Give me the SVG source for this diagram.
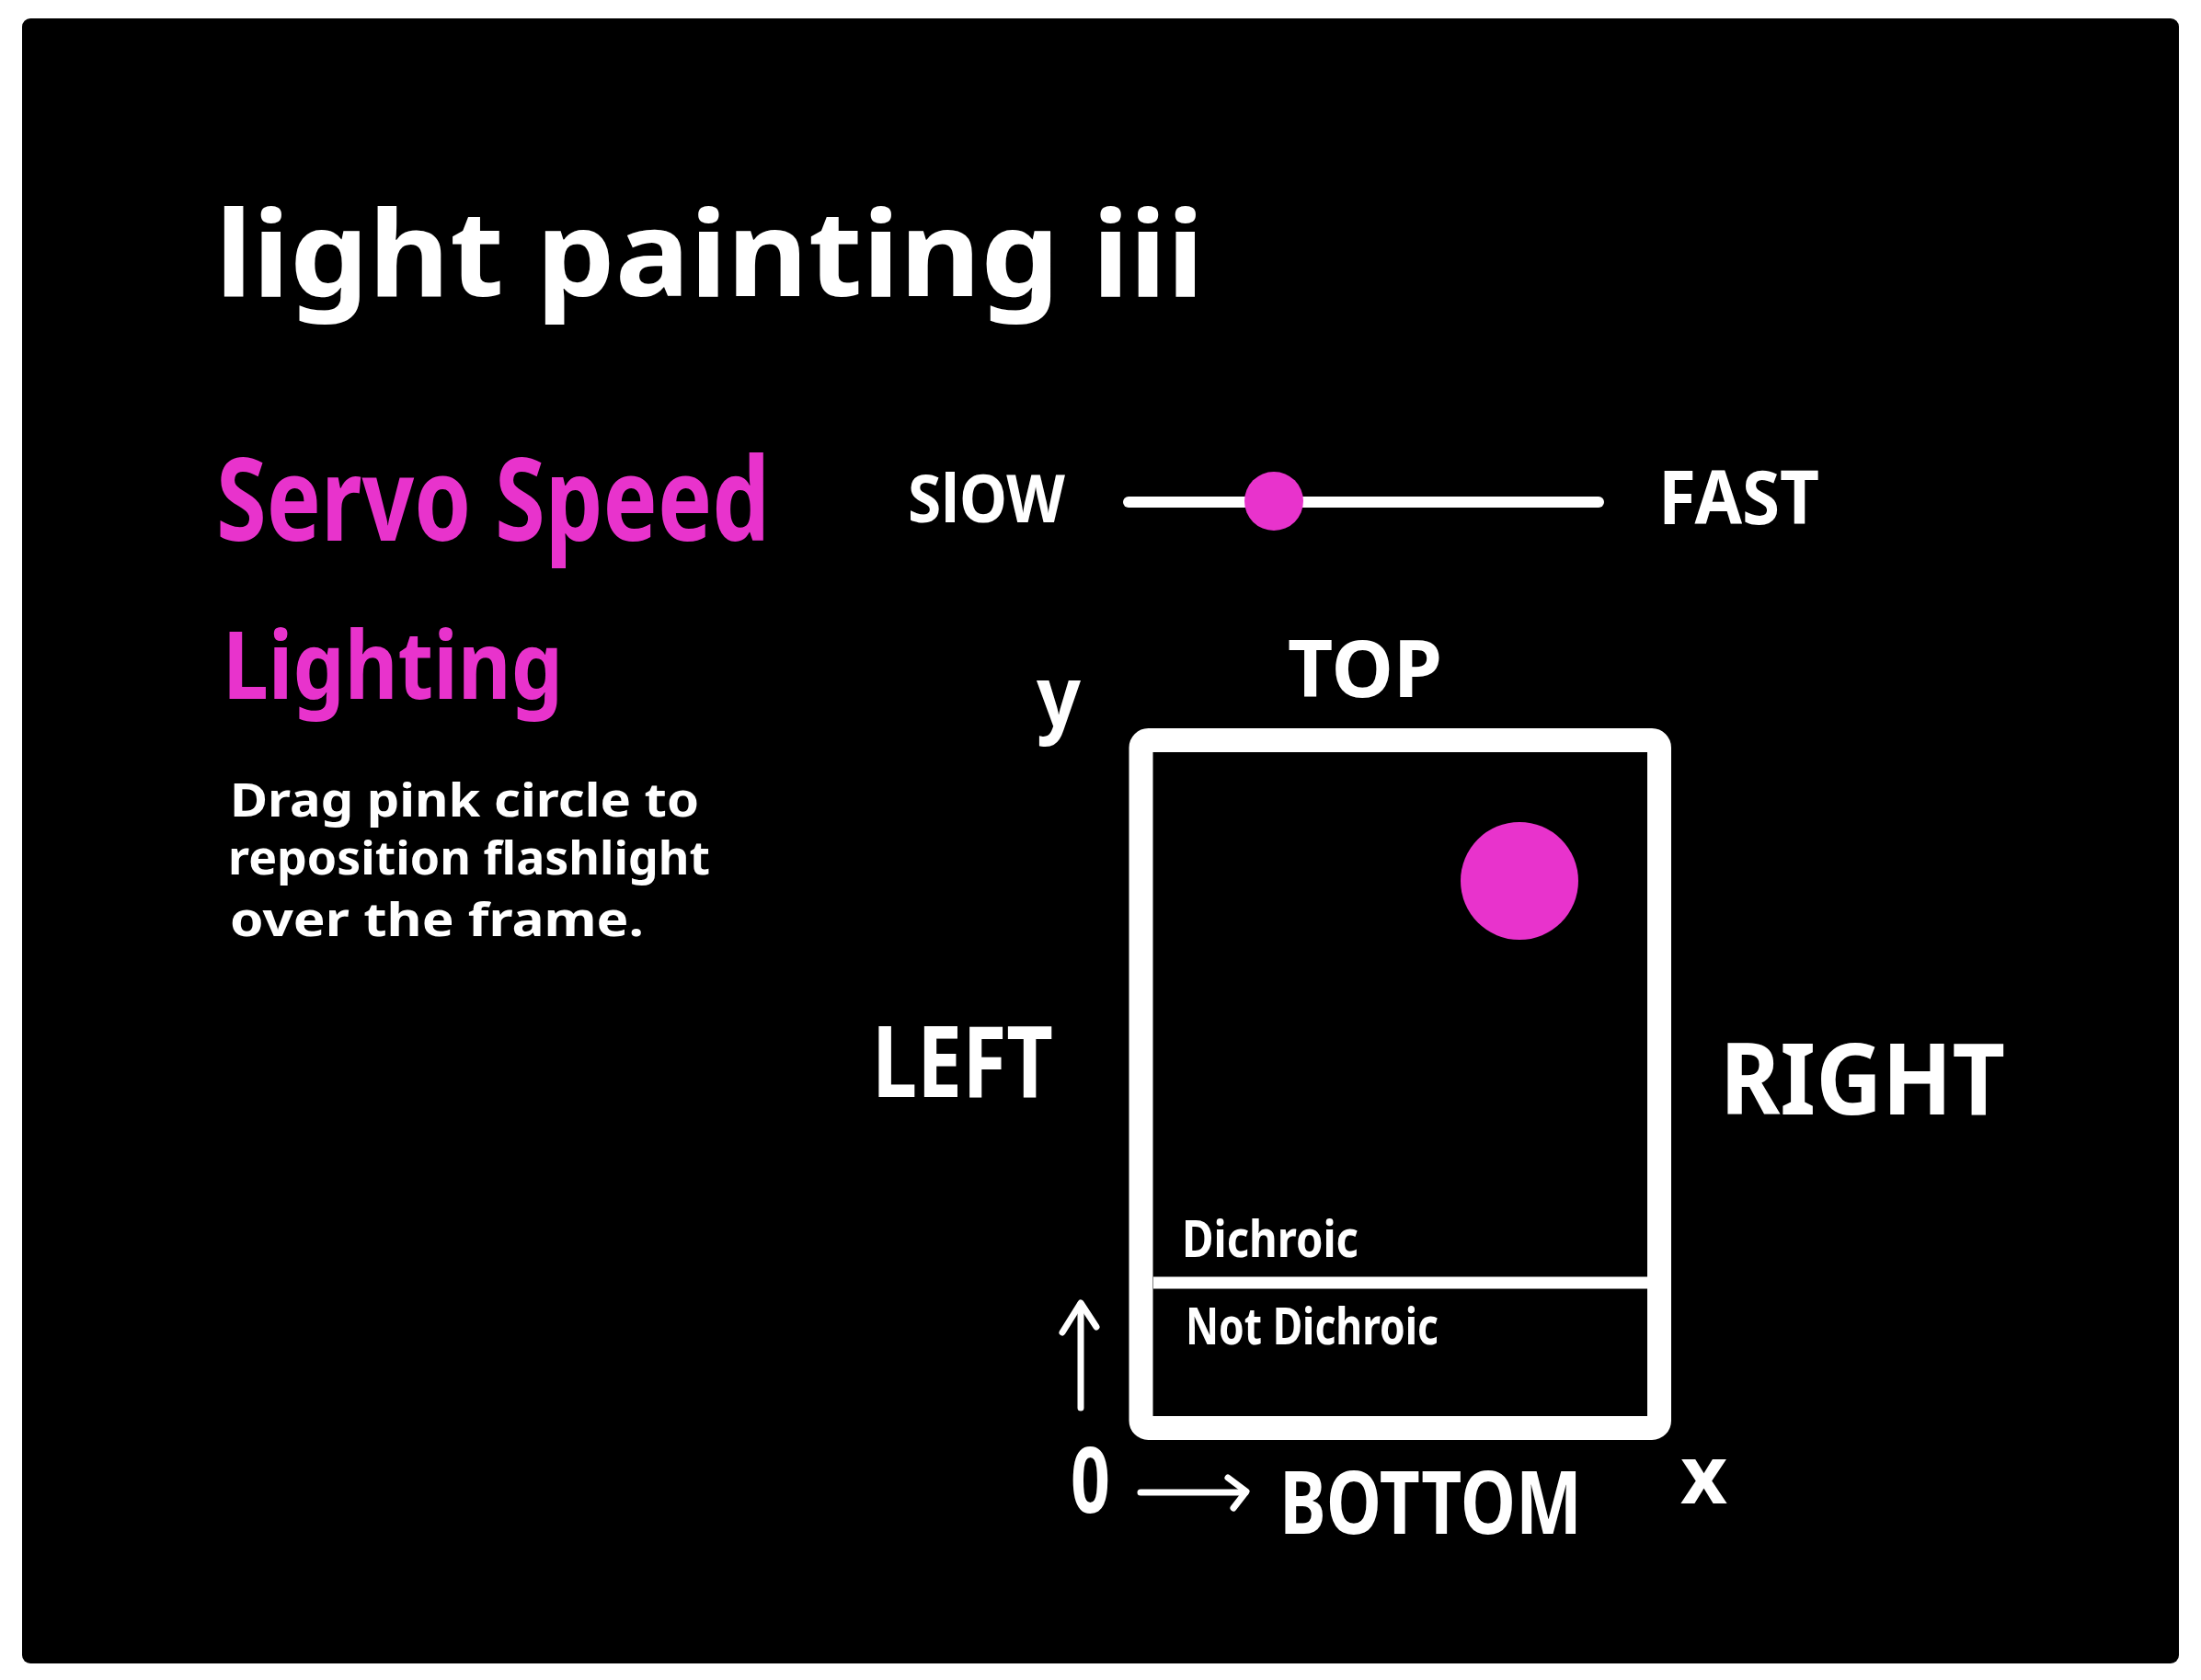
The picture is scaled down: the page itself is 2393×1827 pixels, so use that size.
<svg xmlns="http://www.w3.org/2000/svg" width="2393" height="1827" viewBox="0 0 2393 1827">
<style>
.t{font-family:"Noto Sans","Open Sans","DejaVu Sans",sans-serif;font-weight:700;fill:#ffffff}
.p{fill:#E833CC}
.ln{stroke:#ffffff;fill:none;stroke-linecap:round;stroke-linejoin:round}
</style>
<rect x="0" y="0" width="2393" height="1827" fill="#ffffff"/>
<rect id="background" x="24" y="20" width="2345" height="1789" rx="9" fill="#000000"/>
<g id="title"><text class="t" x="234" y="322" font-size="130" textLength="1075" lengthAdjust="spacingAndGlyphs">light painting iii</text></g>
<g id="servo-speed"><text class="t p" x="235" y="588" font-size="125" textLength="602" lengthAdjust="spacingAndGlyphs">Servo Speed</text></g>
<g id="slider">
<text class="t" x="987" y="568" font-size="72" textLength="171" lengthAdjust="spacingAndGlyphs">SlOW</text>
<line class="ln" x1="1227" y1="546" x2="1738" y2="546" stroke-width="12"/>
<circle class="p" cx="1385" cy="545" r="32"/>
<text class="t" x="1803" y="570" font-size="80" textLength="175" lengthAdjust="spacingAndGlyphs">FAST</text>
</g>
<g id="lighting"><text class="t p" x="242" y="760" font-size="102" textLength="370" lengthAdjust="spacingAndGlyphs">Lighting</text></g>
<g id="description">
<text class="t" x="250" y="888" font-size="50" textLength="510" lengthAdjust="spacingAndGlyphs">Drag  pink circle to</text>
<text class="t" x="248" y="951" font-size="50" textLength="524" lengthAdjust="spacingAndGlyphs">reposition flashlight</text>
<text class="t" x="250" y="1018" font-size="50" textLength="450" lengthAdjust="spacingAndGlyphs">over the frame.</text>
</g>
<g id="frame">
<rect x="1240.5" y="805" width="563.5" height="748" rx="8" fill="none" stroke="#ffffff" stroke-width="26"/>
<line x1="1254" y1="1395" x2="1791" y2="1395" stroke="#ffffff" stroke-width="13"/>
<text class="t" x="1285" y="1367" font-size="56" textLength="192" lengthAdjust="spacingAndGlyphs">Dichroic</text>
<text class="t" x="1289" y="1462" font-size="55" textLength="275" lengthAdjust="spacingAndGlyphs">Not Dichroic</text>
</g>
<g id="flashlight"><circle class="p" cx="1652" cy="958" r="64"/></g>
<g id="labels">
<text class="t" x="1400" y="758" font-size="86" textLength="168" lengthAdjust="spacingAndGlyphs">TOP</text>
<text class="t" x="1127" y="790" font-size="92" textLength="48" lengthAdjust="spacingAndGlyphs">y</text>
<text class="t" x="948" y="1193" font-size="108" textLength="197" lengthAdjust="spacingAndGlyphs">LEFT</text>
<text class="t" x="1870" y="1212" font-size="107" textLength="310" lengthAdjust="spacingAndGlyphs">RIGHT</text>
<text class="t" x="1164" y="1645" font-size="98" textLength="43" lengthAdjust="spacingAndGlyphs">0</text>
<text class="t" x="1391" y="1668" font-size="95" textLength="329" lengthAdjust="spacingAndGlyphs">BOTTOM</text>
<text class="t" x="1827" y="1635" font-size="88" textLength="51" lengthAdjust="spacingAndGlyphs">x</text>
</g>
<g id="connectors">
<polyline class="ln" stroke-width="7" points="1175,1531 1175,1418"/>
<polyline class="ln" stroke-width="7" points="1155,1449 1175,1417 1192,1443"/>
<polyline class="ln" stroke-width="7" points="1240,1623 1354,1623"/>
<polyline class="ln" stroke-width="7" points="1335,1607 1355,1622 1341,1640"/>
</g>
</svg>
